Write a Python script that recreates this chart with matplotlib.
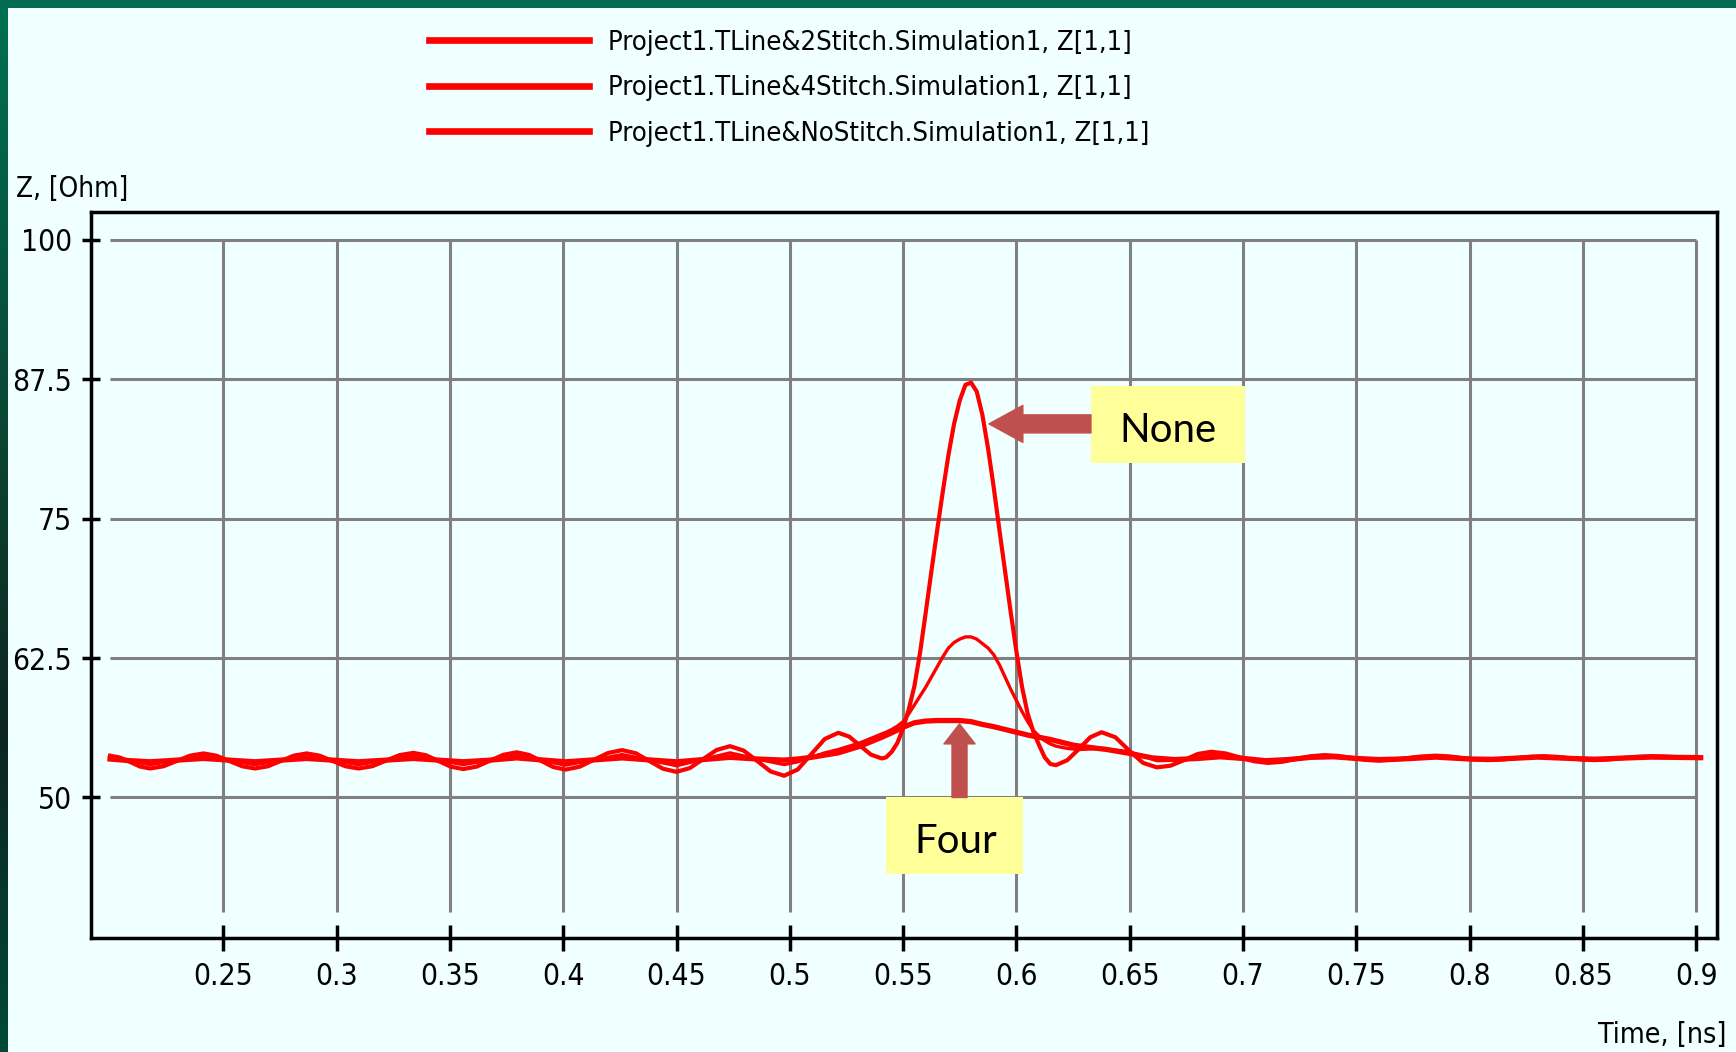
import os
import numpy as np
import matplotlib
matplotlib.use("Agg")
import matplotlib.pyplot as plt
from matplotlib import font_manager as fm
from matplotlib.font_manager import FontProperties
from matplotlib.patches import Rectangle
from matplotlib.colors import LinearSegmentedColormap

# ---------------- data ----------------
t_none = [0.200, 0.2044, 0.2089, 0.2133, 0.2177,
          0.2236, 0.2295, 0.2353, 0.2412, 0.2469, 0.2526, 0.2583, 0.2640,
          0.2697, 0.2754, 0.2811, 0.2868, 0.2925, 0.2982, 0.3039, 0.3096,
          0.3157, 0.3218, 0.3278, 0.3339, 0.3394, 0.3449, 0.3504, 0.3559,
          0.3618, 0.3677, 0.3736, 0.3795, 0.3849, 0.3903, 0.3956, 0.4010,
          0.4073, 0.4135, 0.4198, 0.4260, 0.4320, 0.4380, 0.4440, 0.4500,
          0.4559, 0.4618, 0.4677, 0.4736, 0.4796, 0.4856, 0.4915, 0.4975,
          0.5035, 0.5095, 0.5154, 0.5214, 0.5262, 0.5310, 0.5358, 0.5406,
          0.5425, 0.545, 0.5475, 0.55, 0.5525, 0.555, 0.5575, 0.56, 0.5625, 0.565,
          0.5675, 0.57, 0.5725, 0.575, 0.5775, 0.58, 0.5825, 0.585, 0.5875, 0.59,
          0.5925, 0.595, 0.5975, 0.60, 0.6025, 0.605, 0.6075, 0.61, 0.6125, 0.615,
          0.6175,
          0.6225, 0.6276, 0.6326, 0.6376, 0.6437, 0.6498, 0.6559, 0.662,
          0.668, 0.674, 0.680, 0.686, 0.6923, 0.6985, 0.7048, 0.711,
          0.7173, 0.7235, 0.7298, 0.736, 0.742, 0.748, 0.754, 0.760,
          0.7663, 0.7725, 0.7788, 0.785, 0.7908, 0.7965, 0.8023, 0.808,
          0.8143, 0.8205, 0.8268, 0.833, 0.8385, 0.844, 0.8495, 0.855,
          0.8613, 0.8675, 0.8738, 0.880, 0.8855, 0.891, 0.8965, 0.902]
z_none = [53.75, 53.58, 53.18, 52.77, 52.6,
          52.8, 53.28, 53.75, 53.95, 53.75, 53.28, 52.8, 52.6,
          52.8, 53.28, 53.75, 53.95, 53.75, 53.28, 52.8, 52.6,
          52.8, 53.3, 53.8, 54.0, 53.79, 53.28, 52.76, 52.55,
          52.77, 53.3, 53.83, 54.05, 53.82, 53.28, 52.73, 52.5,
          52.76, 53.38, 53.99, 54.25, 53.97, 53.28, 52.58, 52.3,
          52.64, 53.45, 54.26, 54.6, 54.21, 53.28, 52.34, 51.95,
          52.51, 53.88, 55.24, 55.8, 55.46, 54.65, 53.84, 53.5,
          53.6, 54.1, 54.9, 56.2, 57.9, 60.0, 63.0, 66.6, 70.3, 73.9,
          77.4, 80.7, 83.5, 85.6, 87.0, 87.2, 86.4, 84.3, 81.3, 77.8,
          74.0, 70.3, 66.6, 63.1, 59.9, 57.5, 55.9, 54.7, 53.6, 53.0,
          52.9,
          53.35, 54.35, 55.4, 55.85, 55.4, 54.2, 53.1, 52.7,
          52.85, 53.35, 53.9, 54.1, 53.95, 53.6, 53.25, 53.1,
          53.2, 53.45, 53.7, 53.8, 53.73, 53.55, 53.37, 53.3,
          53.37, 53.53, 53.68, 53.75, 53.69, 53.55, 53.41, 53.35,
          53.4, 53.53, 53.65, 53.7, 53.65, 53.53, 53.4, 53.35,
          53.4, 53.53, 53.65, 53.7, 53.68, 53.62, 53.58, 53.55]

t_two = [0.200, 0.2089, 0.2177, 0.2295, 0.2412, 0.2526, 0.2640, 0.2754, 0.2868,
         0.2982, 0.3096, 0.3218, 0.3339, 0.3449, 0.3559, 0.3677, 0.3795, 0.3903,
         0.4010, 0.4135, 0.4260, 0.4380, 0.4500, 0.4618, 0.4736, 0.4856, 0.4975,
         0.5035, 0.5095, 0.5154, 0.5214, 0.5262, 0.5310, 0.5358, 0.5406,
         0.5425, 0.545, 0.5475, 0.55, 0.5525, 0.555, 0.5575, 0.56, 0.5625, 0.565,
         0.5675, 0.57, 0.5725, 0.575, 0.5775, 0.58, 0.5825, 0.585, 0.5875, 0.59,
         0.5925, 0.595, 0.5975, 0.60, 0.6025, 0.605, 0.6075, 0.61, 0.6125, 0.615,
         0.6175,
         0.6225, 0.6276, 0.6376, 0.6498, 0.662, 0.674, 0.686, 0.6985, 0.711,
         0.7235, 0.736, 0.748, 0.760, 0.7725, 0.785, 0.7965, 0.808, 0.8205,
         0.833, 0.844, 0.855, 0.8675, 0.880, 0.891, 0.902]
z_two = [53.55, 53.25, 52.95, 53.3, 53.65, 53.3, 52.95, 53.3, 53.65,
         53.3, 52.95, 53.32, 53.7, 53.32, 52.95, 53.35, 53.75, 53.32,
         52.9, 53.37, 53.85, 53.35, 52.85, 53.42, 54.0, 53.45, 52.95,
         53.2, 53.6, 54.0, 54.3, 54.6, 54.9, 55.3, 55.7,
         55.85, 56.1, 56.4, 56.8, 57.5, 58.3, 59.1, 59.9, 60.8, 61.7,
         62.6, 63.4, 63.9, 64.2, 64.4, 64.4, 64.2, 63.8, 63.4, 62.8,
         61.9, 60.8, 59.7, 58.7, 57.7, 56.8, 56.0, 55.5, 55.1, 54.8,
         54.6,
         54.4, 54.3, 54.4, 54.1, 53.3, 53.35, 53.8, 53.55, 53.25,
         53.5, 53.75, 53.55, 53.35, 53.55, 53.72, 53.55, 53.4, 53.55,
         53.7, 53.55, 53.4, 53.55, 53.68, 53.6, 53.58]

t_four = [0.200, 0.2089, 0.2177, 0.2295, 0.2412, 0.2526, 0.2640, 0.2754, 0.2868,
          0.2982, 0.3096, 0.3218, 0.3339, 0.3449, 0.3559, 0.3677, 0.3795, 0.3903,
          0.4010, 0.4135, 0.4260, 0.4380, 0.4500, 0.4618, 0.4736, 0.4856, 0.4975,
          0.5035, 0.5095, 0.5154, 0.5214, 0.5262, 0.5310, 0.5358, 0.5406,
          0.545, 0.55, 0.555, 0.56, 0.565, 0.57, 0.575, 0.58, 0.585, 0.59,
          0.595, 0.60, 0.605, 0.61, 0.615,
          0.62, 0.625, 0.63, 0.64, 0.65, 0.66, 0.67, 0.68, 0.69, 0.70,
          0.71, 0.72, 0.73, 0.74, 0.75, 0.76, 0.77, 0.785, 0.80, 0.81,
          0.83, 0.845, 0.855, 0.87, 0.88, 0.89, 0.902]
z_four = [53.45, 53.3, 53.2, 53.35, 53.5, 53.35, 53.2, 53.35, 53.5,
          53.35, 53.2, 53.35, 53.5, 53.35, 53.2, 53.35, 53.55, 53.37,
          53.2, 53.37, 53.55, 53.37, 53.2, 53.4, 53.6, 53.45, 53.35,
          53.45, 53.6, 53.8, 54.0, 54.3, 54.6, 55.0, 55.4,
          55.8, 56.3, 56.7, 56.85, 56.9, 56.9, 56.9, 56.8, 56.55, 56.35,
          56.1, 55.85, 55.6, 55.4, 55.2,
          54.95, 54.7, 54.55, 54.3, 53.95, 53.55, 53.4, 53.5, 53.65, 53.5,
          53.3, 53.4, 53.6, 53.65, 53.5, 53.4, 53.45, 53.62, 53.45, 53.42,
          53.62, 53.5, 53.43, 53.55, 53.62, 53.6, 53.57]

legend_labels = ["Project1.TLine&2Stitch.Simulation1, Z[1,1]",
                 "Project1.TLine&4Stitch.Simulation1, Z[1,1]",
                 "Project1.TLine&NoStitch.Simulation1, Z[1,1]"]
xticks = [0.25, 0.3, 0.35, 0.4, 0.45, 0.5, 0.55, 0.6, 0.65, 0.7, 0.75, 0.8, 0.85, 0.9]
xtick_labels = ["0.25", "0.3", "0.35", "0.4", "0.45", "0.5", "0.55", "0.6",
                "0.65", "0.7", "0.75", "0.8", "0.85", "0.9"]
yticks = [50, 62.5, 75, 87.5, 100]
ytick_labels = ["50", "62.5", "75", "87.5", "100"]

# ---------------- fonts ----------------
def pick_narrow():
    # a narrow / condensed face, found by file name (sizes below tuned for DejaVu Sans Condensed)
    prefs = [("dejavusanscondensed.ttf", 1.0),
             ("liberationsansnarrow-regular.ttf", 1.1),
             ("notosans-condensed.ttf", 1.0)]
    files = {os.path.basename(f.fname).lower(): f.fname for f in fm.fontManager.ttflist}
    for name, scale in prefs:
        if name in files:
            return FontProperties(fname=files[name]), scale
    return FontProperties(family=["Liberation Sans", "DejaVu Sans"]), 0.85

NARROW_FP, FSCALE = pick_narrow()
names = {f.name for f in fm.fontManager.ttflist}
CALLOUT = "Lato" if "Lato" in names else "DejaVu Sans"

def nfp(size):
    fp = NARROW_FP.copy()
    fp.set_size(size * FSCALE)
    return fp

BG = "#F0FFFF"
RED = "#FF0000"
GRID = "#808080"
ARROW = "#C0504D"
BOX = "#FFFF99"

W, H = 1736, 1052
fig = plt.figure(figsize=(W / 100, H / 100), dpi=100, facecolor=BG)

# green border (top strip + left gradient strip)
fig.patches.append(Rectangle((0, 1 - 8 / H), 1, 8 / H, transform=fig.transFigure,
                             facecolor="#006B50", edgecolor="none", zorder=0))
axb = fig.add_axes([0, 0, 8 / W, 1 - 8 / H])
cmap = LinearSegmentedColormap.from_list(
    "border", [(0, "#007052"), (0.45, "#0B4030"), (0.7, "#0B2520"), (1.0, "#004A36")])
axb.imshow(np.linspace(0, 1, 256)[:, None], aspect="auto", cmap=cmap)
axb.set_axis_off()

# main axes
L, R, T, B = 91, 1717, 212, 938
ax = fig.add_axes([L / W, 1 - B / H, (R - L) / W, (B - T) / H], facecolor=BG)
ax.set_xlim(0.1916, 0.9092)
ax.set_ylim(37.4, 102.5)

ax.hlines(yticks, 0.2, 0.9, color=GRID, lw=2.2, zorder=1)
ax.vlines(xticks, 39.7, 100, color=GRID, lw=2.2, zorder=1)

l_two, = ax.plot(t_two, z_two, color=RED, lw=2.4, zorder=3, solid_joinstyle="round")
l_four, = ax.plot(t_four, z_four, color=RED, lw=3.8, zorder=3, solid_joinstyle="round")
l_none, = ax.plot(t_none, z_none, color=RED, lw=3.0, zorder=3, solid_joinstyle="round")

for s in ax.spines.values():
    s.set_linewidth(2.5)
    s.set_color("black")

ax.set_xticks(xticks, xtick_labels)
ax.set_yticks(yticks, ytick_labels)
ax.tick_params(axis="x", direction="inout", length=19, width=2.5, pad=8, colors="black")
ax.tick_params(axis="y", direction="inout", length=13, width=2.5, pad=7, colors="black")
for lab in ax.get_xticklabels() + ax.get_yticklabels():
    lab.set_fontproperties(nfp(21.5))

# axis titles
fig.text(16 / W, 1 - 197 / H, "Z, [Ohm]", fontproperties=nfp(20),
         ha="left", va="baseline")
fig.text(1727 / W, 1 - 1043 / H, "Time, [ns]", fontproperties=nfp(20.5),
         ha="right", va="baseline")

# legend
LEG_SIZE = 19.6
LEG_PT = LEG_SIZE * FSCALE
leg = fig.legend([l_two, l_four, l_none], legend_labels, loc="upper center",
                 bbox_to_anchor=(789 / W, 1 - 16 / H), frameon=False,
                 prop=nfp(LEG_SIZE), handlelength=160 / (LEG_PT * 100 / 72),
                 handletextpad=0.7, labelspacing=0.72, borderpad=0)
for h in leg.get_lines():
    h.set_linewidth(4.8)

# callouts
ax.add_patch(Rectangle((0.6329, 80.0), 0.0680, 6.9, facecolor=BOX,
                       edgecolor="none", zorder=4))
ax.text(0.6669, 81.9, "None", family=CALLOUT, fontsize=29, ha="center",
        va="baseline", zorder=5)
ax.annotate("", xy=(0.5879, 83.5), xytext=(0.6329, 83.5),
            arrowprops=dict(arrowstyle="simple,head_length=1.22,head_width=1.33,tail_width=0.65",
                            color=ARROW, shrinkA=0, shrinkB=0, mutation_scale=20),
            zorder=5)

ax.add_patch(Rectangle((0.5424, 43.1), 0.0606, 6.9, facecolor=BOX,
                       edgecolor="none", zorder=4, clip_on=False))
ax.text(0.5731, 45.0, "Four", family=CALLOUT, fontsize=29, ha="center",
        va="baseline", zorder=5)
ax.annotate("", xy=(0.5749, 56.6), xytext=(0.5749, 50.0),
            arrowprops=dict(arrowstyle="simple,head_length=0.72,head_width=1.12,tail_width=0.54",
                            color=ARROW, shrinkA=0, shrinkB=0, mutation_scale=20),
            zorder=5)

fig.savefig("out.png", dpi=100, facecolor=BG)
